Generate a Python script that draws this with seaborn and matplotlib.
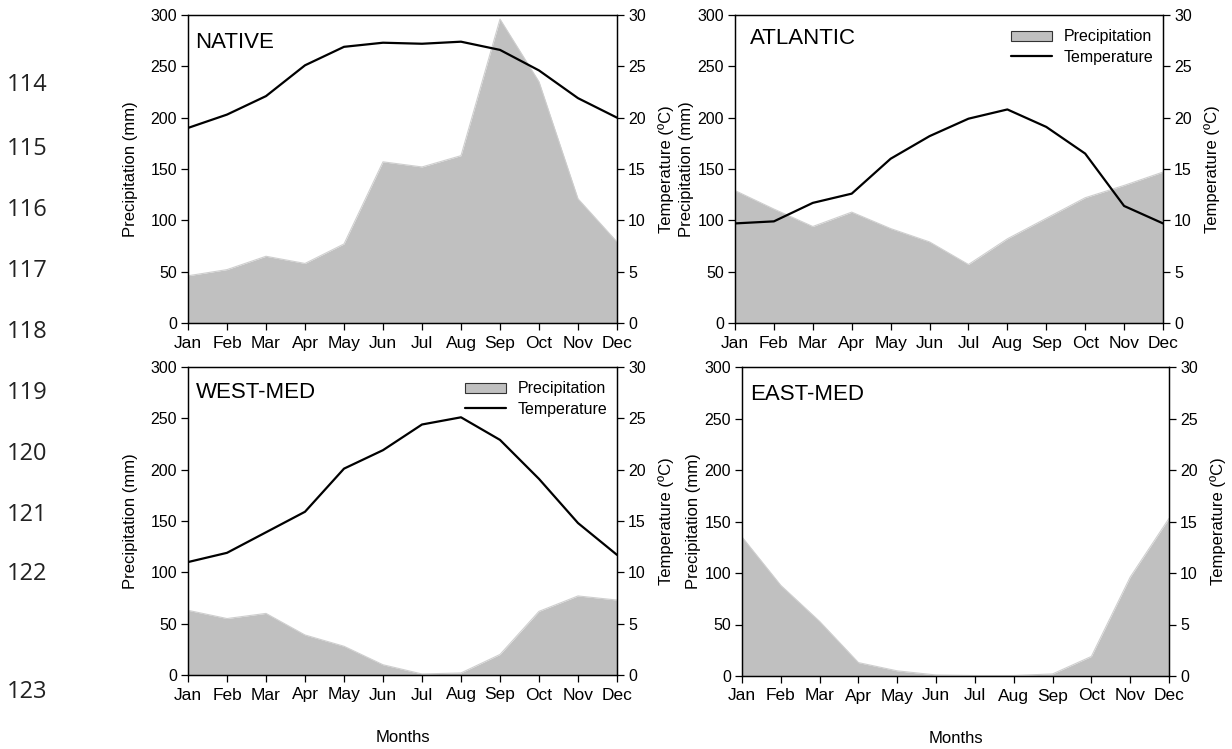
import matplotlib
matplotlib.use("Agg")
import matplotlib.pyplot as plt
from matplotlib.patches import Patch
from matplotlib.lines import Line2D
import seaborn as sns
import pandas as pd
import numpy as np

sns.set_theme(style="ticks")
plt.rcParams['font.family'] = ['Liberation Sans', 'DejaVu Sans']
plt.rcParams['text.color'] = 'black'
plt.rcParams['axes.labelcolor'] = 'black'
plt.rcParams['xtick.color'] = 'black'
plt.rcParams['ytick.color'] = 'black'

months = ["Jan", "Feb", "Mar", "Apr", "May", "Jun", "Jul", "Aug", "Sep", "Oct", "Nov", "Dec"]

native_prec = [46, 52, 65, 58, 77, 157, 152, 163, 296, 235, 121, 79]
native_temp = [19.0, 20.3, 22.1, 25.1, 26.9, 27.3, 27.2, 27.4, 26.6, 24.6, 21.9, 20.0]

atlantic_prec = [129, 111, 94, 108, 92, 79, 57, 82, 102, 122, 134, 147]
atlantic_temp = [9.7, 9.9, 11.7, 12.6, 16.0, 18.2, 19.9, 20.8, 19.1, 16.5, 11.4, 9.7]

westmed_prec = [63, 55, 60, 39, 28, 10, 1, 2, 20, 62, 77, 73]
westmed_temp = [11.0, 11.9, 13.9, 15.9, 20.1, 21.9, 24.4, 25.1, 22.9, 19.1, 14.8, 11.7]

eastmed_prec = [135, 88, 53, 13, 5, 1, 0.5, 0.5, 2, 19, 96, 153]

line_numbers = ["114", "115", "116", "117", "118", "119", "120", "121", "122", "123"]
line_number_y = [85, 149, 210, 271, 332, 393, 454, 515, 574, 692]

# name, precipitation, temperature, legend, box (px), title pos (axes frac), left label pad
panels = [
    ("NATIVE", native_prec, native_temp, False, [188, 15, 617, 323], (0.016, 0.893), 9),
    ("ATLANTIC", atlantic_prec, atlantic_temp, True, [735, 15, 1163, 323], (0.035, 0.906), 2),
    ("WEST-MED", westmed_prec, westmed_temp, True, [188, 367, 617, 675], (0.018, 0.899), 9),
    ("EAST-MED", eastmed_prec, None, False, [742, 367, 1169, 676], (0.020, 0.893), 2),
]

W, H = 1232, 749
fig = plt.figure(figsize=(W / 100, H / 100), dpi=100)
fill_col = "#c0c0c0"
TICK = 11.5
XTICK = 12.5
LAB = 12

for i, (name, prec, temp, show_leg, (x0, y0, x1, y1), tpos, lpad) in enumerate(panels):
    ax = fig.add_axes([x0 / W, 1 - y1 / H, (x1 - x0) / W, (y1 - y0) / H])
    df = pd.DataFrame({"m": np.arange(12), "prec": prec})
    ax.fill_between(df["m"], 0, df["prec"], color=fill_col, linewidth=0, zorder=1)
    sns.lineplot(data=df, x="m", y="prec", ax=ax, color="#cfcfcf", linewidth=0.8, zorder=1)
    ax.set_xlim(0, 11)
    ax.set_ylim(0, 300)
    ax.set_yticks(np.arange(0, 301, 50))
    ax.set_xticks(np.arange(12))
    ax.set_xticklabels(months, fontsize=XTICK)
    ax.tick_params(axis="y", labelsize=TICK, direction="out", length=5, width=0.9, pad=3)
    ax.tick_params(axis="x", direction="out", length=5, width=0.9, pad=4)
    ax.set_ylabel("Precipitation (mm)", fontsize=LAB, labelpad=lpad)
    ax.set_xlabel("Months" if i >= 2 else "", fontsize=LAB, labelpad=20)
    for s in ax.spines.values():
        s.set_color("black")
        s.set_linewidth(0.9)
    ax.text(tpos[0], tpos[1], name, transform=ax.transAxes, fontsize=16,
            va="baseline", ha="left")

    ax2 = ax.twinx()
    ax2.set_ylim(0, 30)
    ax2.set_yticks(np.arange(0, 31, 5))
    ax2.tick_params(axis="y", labelsize=TICK, direction="out", length=5, width=0.9, pad=3)
    ax2.set_ylabel("Temperature (ºC)", fontsize=LAB, labelpad=9)
    ax2.grid(False)
    if temp is not None:
        dft = pd.DataFrame({"m": np.arange(12), "temp": temp})
        sns.lineplot(data=dft, x="m", y="temp", ax=ax2, color="black", linewidth=1.6)
    ax2.set_xlim(0, 11)
    ax2.set_xlabel("")
    for s in ax2.spines.values():
        s.set_color("black")
        s.set_linewidth(0.9)

    if show_leg:
        handles = [Patch(facecolor=fill_col, edgecolor="#333333", linewidth=0.8),
                   Line2D([0], [0], color="black", linewidth=1.6)]
        ax2.legend(handles, ["Precipitation", "Temperature"], loc="upper right",
                   bbox_to_anchor=(1.0, 0.985), frameon=False, fontsize=TICK,
                   handlelength=2.6, handleheight=0.6, handletextpad=0.7,
                   labelspacing=0.35, borderaxespad=0.2)

for lab, y in zip(line_numbers, line_number_y):
    fig.text(7 / W, 1 - y / H, lab, fontsize=17, family=["Open Sans", "DejaVu Sans"],
             ha="left", va="center", color="#222222")

fig.savefig("out.png", dpi=100)
